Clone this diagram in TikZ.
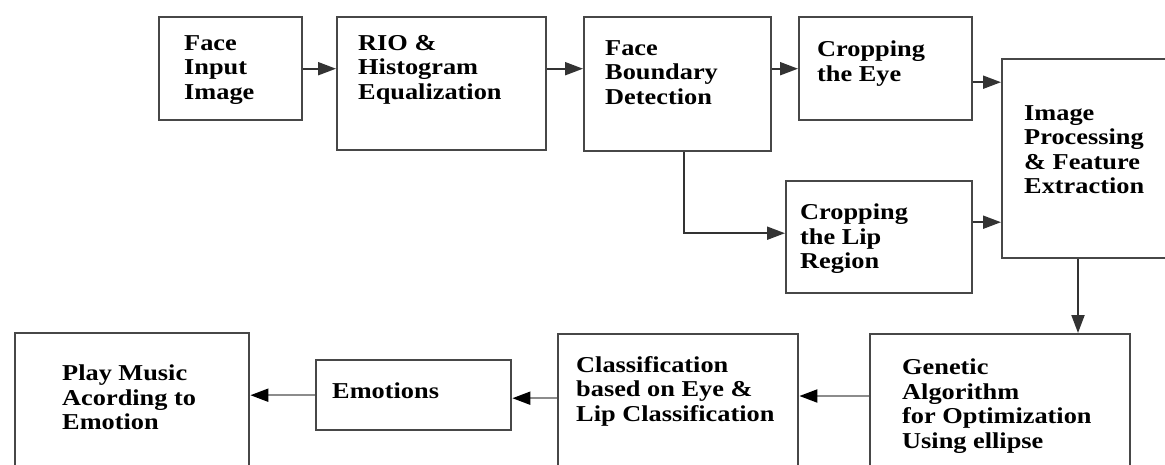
\documentclass[tikz,border=0pt]{standalone}
\usepackage{fontspec}
\setmainfont{Liberation Serif}[FakeStretch=1.16]
\usetikzlibrary{arrows.meta}

\begin{document}
\begin{tikzpicture}[
  x=1pt, y=-1pt,
  blk/.style={draw=black!72, line width=2.4pt, anchor=north west, inner sep=0pt},
  txt/.style={anchor=north west, inner sep=0pt, align=left,
              font=\fontsize{22.7}{24.5}\selectfont\bfseries},
  arr/.style={-{Triangle[length=18pt, width=13pt]}, line width=2pt, draw=black!80},
  arrg/.style={-{Triangle[length=18pt, width=13pt, color=black]}, line width=2pt, draw=black!45},
]
\fill[white] (0,0) rectangle (1165,464);
\useasboundingbox (0,0) rectangle (1165,464);
\clip (0,0) rectangle (1165,464);

\node[blk, minimum width=143pt, minimum height=103pt] (face)  at (158,16)  {};
\node[blk, minimum width=209pt, minimum height=133pt] (rio)   at (336,16)  {};
\node[blk, minimum width=187pt, minimum height=134pt] (bound) at (583,16)  {};
\node[blk, minimum width=173pt, minimum height=103pt] (eye)   at (798,16)  {};
\node[blk, minimum width=250pt, minimum height=199pt] (proc)  at (1001,58) {};
\node[blk, minimum width=186pt, minimum height=112pt] (lip)   at (785,180) {};
\node[blk, minimum width=260pt, minimum height=200pt] (gen)   at (869,333) {};
\node[blk, minimum width=240pt, minimum height=200pt] (cls)   at (557,333) {};
\node[blk, minimum width=195pt, minimum height=70pt]  (emo)   at (315,359) {};
\node[blk, minimum width=234pt, minimum height=200pt] (play)  at (14,332)  {};

\node[txt] (faceT)  at (184,35)  {Face\\Input\\Image};
\node[txt] (rioT)   at (358,35)  {RIO \&\\Histogram\\Equalization};
\node[txt] (boundT) at (605,40)  {Face\\Boundary\\Detection};
\node[txt] (eyeT)   at (817,41)  {Cropping\\the Eye};
\node[txt] (procT)  at (1024,105) {Image\\Processing\\\& Feature\\Extraction};
\node[txt] (lipT)   at (800,204) {Cropping\\the Lip\\Region};
\node[txt] (genT)   at (902,359) {Genetic\\Algorithm\\for Optimization\\Using ellipse};
\node[txt] (clsT)   at (576,356) {Classification\\based on Eye \&\\Lip Classification};
\node[txt] (emoT)   at (332,383) {Emotions};
\node[txt] (playT)  at (62,365)  {Play Music\\Acording to\\Emotion};

\draw[arr] (face.east) -- (face.east -| rio.west);
\draw[arr] (rio.east |- face.east) -- (bound.west |- face.east);
\draw[arr] (bound.east |- eye.west) -- (eye.west);
\draw[arr] ([yshift=-13.5pt]eye.east) -- ([yshift=-13.5pt]eye.east -| proc.west);
\draw[arr] ([xshift=6.5pt]bound.south) |- ([yshift=4pt]lip.west);
\draw[arr] ([yshift=15pt]lip.east) -- ([yshift=15pt]lip.east -| proc.west);
\draw[arr] ([xshift=77pt]proc.south west) -- ([xshift=77pt]proc.south west |- gen.north);
\draw[arrg] ([yshift=-63pt]gen.north west) -- ([yshift=-63pt]cls.north east);
\draw[arrg] ([yshift=-3pt]emo.east -| cls.west) -- ([yshift=-3pt]emo.east);
\draw[arrg] (emo.west) -- (emo.west -| play.east);
\end{tikzpicture}
\end{document}
